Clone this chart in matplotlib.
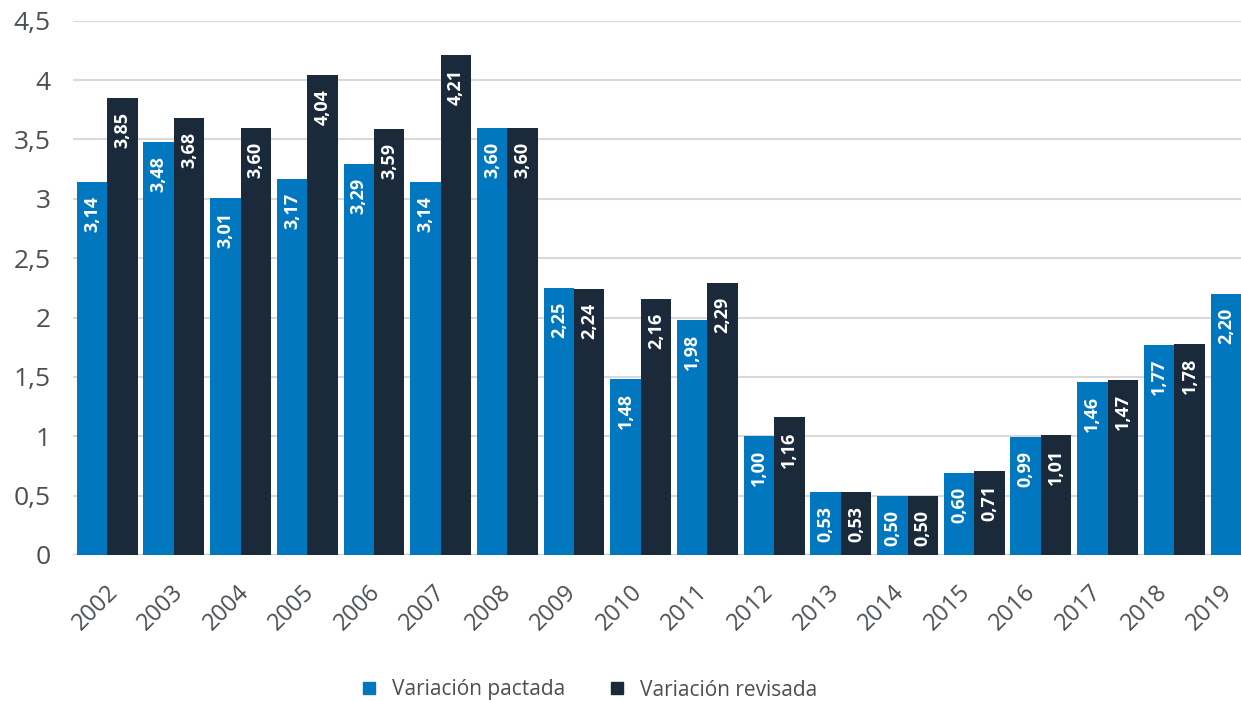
import numpy as np
import matplotlib
matplotlib.use("Agg")
import matplotlib.pyplot as plt
from matplotlib.lines import Line2D
from matplotlib.transforms import ScaledTranslation

plt.rcParams['font.family'] = ['Open Sans', 'DejaVu Sans']

years = ['2002', '2003', '2004', '2005', '2006', '2007', '2008', '2009', '2010',
         '2011', '2012', '2013', '2014', '2015', '2016', '2017', '2018', '2019']
pactada = [3.14, 3.48, 3.01, 3.17, 3.29, 3.14, 3.60, 2.25, 1.48, 1.98, 1.00,
           0.53, 0.50, 0.69, 0.99, 1.46, 1.77, 2.20]
pactada_labels = ['3,14', '3,48', '3,01', '3,17', '3,29', '3,14', '3,60', '2,25', '1,48',
                  '1,98', '1,00', '0,53', '0,50', '0,60', '0,99', '1,46', '1,77', '2,20']
revisada = [3.85, 3.68, 3.60, 4.04, 3.59, 4.21, 3.60, 2.24, 2.16, 2.29, 1.16,
            0.53, 0.50, 0.71, 1.01, 1.47, 1.78, np.nan]
revisada_labels = ['3,85', '3,68', '3,60', '4,04', '3,59', '4,21', '3,60', '2,24', '2,16',
                   '2,29', '1,16', '0,53', '0,50', '0,71', '1,01', '1,47', '1,78', '']
yticks = [0, 0.5, 1, 1.5, 2, 2.5, 3, 3.5, 4, 4.5]
ytick_labels = ['0', '0,5', '1', '1,5', '2', '2,5', '3', '3,5', '4', '4,5']
series_names = ['Variación pactada', 'Variación revisada']

c_pact = '#0077BE'
c_rev = '#1A2A3B'
txt_col = '#4A4F55'

W, H = 1241, 701
fig = plt.figure(figsize=(W / 100, H / 100), dpi=100)
ax = fig.add_axes([73 / W, (H - 555) / H, (W - 73) / W, (555 - 20.7) / H])

x = np.arange(len(years))
bw = 0.456
ax.bar(x - bw / 2, pactada, width=bw, color=c_pact, zorder=3)
ax.bar(x + bw / 2, revisada, width=bw, color=c_rev, zorder=3)

for xi, v, lab in zip(x, pactada, pactada_labels):
    ax.annotate(lab, (xi - bw / 2, v), xytext=(0, -10), textcoords='offset points',
                rotation=90, ha='center', va='top', color='white',
                fontweight='bold', fontsize=13, zorder=4)
for xi, v, lab in zip(x, revisada, revisada_labels):
    if np.isnan(v):
        continue
    ax.annotate(lab, (xi + bw / 2, v), xytext=(0, -10), textcoords='offset points',
                rotation=90, ha='center', va='top', color='white',
                fontweight='bold', fontsize=13, zorder=4)

ax.set_xlim(-0.512, 16.936)
ax.set_ylim(0, 4.5)
ax.set_yticks(yticks)
ax.set_yticklabels(ytick_labels, fontsize=19, color=txt_col)
ax.tick_params(axis='y', length=0, pad=16)
ax.grid(axis='y', color='#D9D9D9', linewidth=1.5, zorder=0)
ax.axhline(0, color='#D0D2D5', linewidth=2.5, zorder=2)

ax.set_xticks(x)
ax.set_xticklabels(years, fontsize=17, color=txt_col, rotation=45,
                   ha='right', va='center', rotation_mode='anchor')
ax.tick_params(axis='x', length=0, pad=24)
for i, lbl in enumerate(ax.get_xticklabels()):
    off = ScaledTranslation((7 - 1.12 * i) / 100, 0, fig.dpi_scale_trans)
    lbl.set_transform(lbl.get_transform() + off)

for s in ax.spines.values():
    s.set_visible(False)

handles = [Line2D([], [], linestyle='none', marker='s', markersize=9,
                  markerfacecolor=c_pact, markeredgecolor=c_pact),
           Line2D([], [], linestyle='none', marker='s', markersize=9,
                  markerfacecolor=c_rev, markeredgecolor=c_rev)]
leg = fig.legend(handles, series_names, loc='center', ncol=2,
                 bbox_to_anchor=(590 / W, 1 - 690 / H), frameon=False,
                 fontsize=15, handlelength=0.6, handletextpad=0.8,
                 columnspacing=2.2, labelcolor=txt_col)

fig.savefig('out.png', dpi=100)
